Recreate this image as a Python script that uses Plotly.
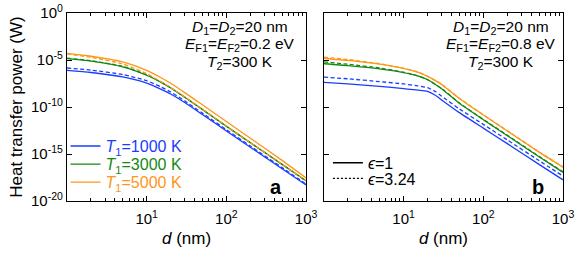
import numpy as np
import plotly.graph_objects as go

# ---------------- data (log10 of heat transfer power, W) ----------------
d_a = [1, 2, 5, 10, 15, 20, 30, 50, 100, 200, 500, 1000]
a_T1000_e1 = [-6.1, -6.33, -6.8, -7.45, -8.1, -8.62, -9.52, -10.8, -12.55, -14.28, -16.57, -18.3]
a_T1000_e324 = [-5.85, -6.08, -6.55, -7.2, -7.85, -8.4, -9.35, -10.65, -12.42, -14.15, -16.45, -18.2]
a_T3000_e1 = [-4.85, -5.12, -5.72, -6.62, -7.36, -7.98, -8.97, -10.26, -12.05, -13.8, -16.1, -17.85]
a_T3000_e324 = [-4.8, -5.08, -5.68, -6.58, -7.33, -7.96, -8.95, -10.25, -12.05, -13.8, -16.1, -17.88]
a_T5000_e1 = [-4.3, -4.6, -5.2, -6.1, -6.86, -7.48, -8.47, -9.77, -11.55, -13.33, -15.68, -17.55]
a_T5000_e324 = [-4.35, -4.72, -5.42, -6.45, -7.3, -7.93, -8.93, -10.23, -12.03, -13.8, -16.1, -17.85]

d_b = [1, 2, 5, 10, 15, 20, 25, 30, 50, 100, 200, 500, 1000]
b_T1000_e1 = [-7.37, -7.55, -7.8, -8.05, -8.2, -8.35, -8.75, -9.25, -10.6, -12.25, -13.9, -16.1, -17.75]
b_T1000_e324 = [-6.83, -7.0, -7.3, -7.55, -7.75, -7.95, -8.35, -8.85, -10.2, -11.85, -13.5, -15.7, -17.35]
b_T3000_e1 = [-5.4, -5.6, -5.95, -6.35, -6.7, -7.1, -7.6, -8.05, -9.6, -11.35, -13.05, -15.3, -16.95]
b_T3000_e324 = [-5.2, -5.45, -5.85, -6.3, -6.68, -7.08, -7.58, -8.03, -9.57, -11.32, -13.0, -15.25, -16.9]
b_T5000_e1 = [-4.84, -5.05, -5.45, -5.9, -6.3, -6.75, -7.2, -7.6, -9.1, -10.85, -12.55, -14.8, -16.4]
b_T5000_e324 = [-4.7, -4.95, -5.4, -5.88, -6.28, -6.73, -7.18, -7.58, -9.08, -10.83, -12.53, -14.78, -16.38]

temps = ["1000", "3000", "5000"]
eps_labels = ["1", "3.24"]
x_ticks = [10, 100, 1000]
x_ticktext = ["10<sup>1</sup>", "10<sup>2</sup>", "10<sup>3</sup>"]
y_ticks = [1e-20, 1e-15, 1e-10, 1e-5, 1]
y_ticktext = ["10<sup>-20</sup>", "10<sup>-15</sup>", "10<sup>-10</sup>", "10<sup>-5</sup>", "10<sup>0</sup>"]

BLUE = "#1a3cff"
GREEN = "#138a13"
ORANGE = "#ff9519"
colors = [BLUE, GREEN, ORANGE]
FONT = "Liberation Sans, Arial, sans-serif"
DASH = "4px,2.5px"
LW = 1.3

fig = go.Figure()

series_a = [(a_T1000_e1, a_T1000_e324), (a_T3000_e1, a_T3000_e324), (a_T5000_e1, a_T5000_e324)]
series_b = [(b_T1000_e1, b_T1000_e324), (b_T3000_e1, b_T3000_e324), (b_T5000_e1, b_T5000_e324)]

for (s1, s2), c in zip(series_a, colors):
    fig.add_trace(go.Scatter(x=d_a, y=10 ** np.array(s2), mode="lines",
                             line=dict(color=c, width=LW, dash=DASH, shape="spline", smoothing=0.6),
                             xaxis="x", yaxis="y", showlegend=False))
    fig.add_trace(go.Scatter(x=d_a, y=10 ** np.array(s1), mode="lines",
                             line=dict(color=c, width=LW, shape="spline", smoothing=0.6),
                             xaxis="x", yaxis="y", showlegend=False))
for (s1, s2), c in zip(series_b, colors):
    fig.add_trace(go.Scatter(x=d_b, y=10 ** np.array(s2), mode="lines",
                             line=dict(color=c, width=LW, dash=DASH, shape="spline", smoothing=0.5),
                             xaxis="x2", yaxis="y2", showlegend=False))
    fig.add_trace(go.Scatter(x=d_b, y=10 ** np.array(s1), mode="lines",
                             line=dict(color=c, width=LW, shape="spline", smoothing=0.5),
                             xaxis="x2", yaxis="y2", showlegend=False))

# legend entries, one legend per entry so rows can be placed like the reference
leg_a_y = [0.292, 0.196, 0.10]
for i, (t, c) in enumerate(zip(temps, colors)):
    fig.add_trace(go.Scatter(x=[None], y=[None], mode="lines", line=dict(color=c, width=LW),
                             name=f"<span style='color:{c}'><i>T</i><sub>1</sub>={t} K</span>",
                             xaxis="x", yaxis="y", legend=f"legend{i + 1 if i else ''}"))
leg_b_y = [0.203, 0.12]
for j, (e, dsh) in enumerate(zip(eps_labels, ["solid", "2px,2px"])):
    fig.add_trace(go.Scatter(x=[None], y=[None], mode="lines", line=dict(color="black", width=LW, dash=dsh),
                             name=f"<i>ϵ</i>={e}", xaxis="x2", yaxis="y2", legend=f"legend{4 + j}"))

minor_vals = [m * 10 ** k for k in range(3) for m in range(2, 10)]

xcommon = dict(type="log", range=[0, 3], showline=True, linecolor="black", linewidth=1.3, mirror="ticks",
               ticks="inside", ticklen=5, tickwidth=1.2, tickcolor="black", tickmode="array",
               tickvals=x_ticks, ticktext=x_ticktext, showgrid=False, zeroline=False,
               minor=dict(tickmode="array", tickvals=minor_vals, ticks="inside", ticklen=2.5, tickwidth=1,
                          tickcolor="black", showgrid=False),
               ticklabelstandoff=4,
               tickfont=dict(family=FONT, size=15, color="black"),
               title=dict(text="<i>d</i> (nm)", font=dict(family=FONT, size=17, color="black"), standoff=5))
ycommon = dict(type="log", range=[-20, 0], showline=True, linecolor="black", linewidth=1.3, mirror="ticks",
               ticks="inside", ticklen=5, tickwidth=1.2, tickcolor="black", tickmode="array",
               tickvals=y_ticks, ticktext=y_ticktext, showgrid=False, zeroline=False,
               tickfont=dict(family=FONT, size=15, color="black"))

legend_common = dict(xanchor="left", yanchor="middle", bgcolor="rgba(0,0,0,0)",
                     font=dict(family=FONT, size=16), itemwidth=30, borderwidth=0)
legends = {}
for i, yv in enumerate(leg_a_y):
    legends["legend" + (str(i + 1) if i else "")] = dict(x=-0.003, y=yv, **legend_common)
for j, yv in enumerate(leg_b_y):
    legends[f"legend{4 + j}"] = dict(x=0.526, y=yv, **legend_common)

fig.update_layout(
    width=581, height=255,
    margin=dict(l=67, r=18, t=13, b=54, autoexpand=False),
    paper_bgcolor="white", plot_bgcolor="white",
    font=dict(family=FONT, size=15, color="black"),
    xaxis=dict(domain=[0, 0.482], anchor="y", **xcommon),
    xaxis2=dict(domain=[0.518, 1], anchor="y2", **xcommon),
    yaxis=dict(domain=[0, 1], anchor="x", **ycommon,
               title=dict(text="Heat transfer power (W)", font=dict(family=FONT, size=17, color="black"), standoff=4)),
    yaxis2=dict(domain=[0, 1], anchor="x2", showticklabels=False, **ycommon),
    **legends,
)

ann_font = dict(family=FONT, size=15.5, color="black")
for xc, ef in [(0.349, "0.2"), (0.875, "0.8")]:
    fig.add_annotation(xref="paper", yref="paper", x=xc, y=0.925, text="<i>D</i><sub>1</sub>=<i>D</i><sub>2</sub>=20 nm",
                       showarrow=False, font=ann_font, xanchor="center", yanchor="middle")
    fig.add_annotation(xref="paper", yref="paper", x=xc, y=0.83, text=f"<i>E</i><sub>F1</sub>=<i>E</i><sub>F2</sub>={ef} eV",
                       showarrow=False, font=ann_font, xanchor="center", yanchor="middle")
    fig.add_annotation(xref="paper", yref="paper", x=xc, y=0.735, text="<i>T</i><sub>2</sub>=300 K",
                       showarrow=False, font=ann_font, xanchor="center", yanchor="middle")
fig.add_annotation(xref="paper", yref="paper", x=0.421, y=0.075, text="<b>a</b>", showarrow=False,
                   font=dict(family=FONT, size=20, color="black"), xanchor="center", yanchor="middle")
fig.add_annotation(xref="paper", yref="paper", x=0.95, y=0.075, text="<b>b</b>", showarrow=False,
                   font=dict(family=FONT, size=20, color="black"), xanchor="center", yanchor="middle")

fig.write_html("out.html", config={"displayModeBar": False},
               post_script="document.body.style.margin='0px';")
